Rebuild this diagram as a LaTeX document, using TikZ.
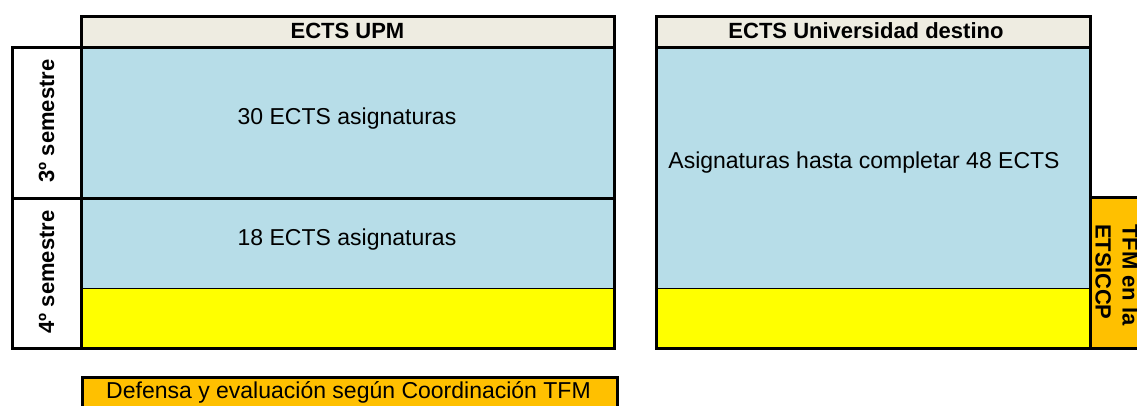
\documentclass[tikz,border=0pt]{standalone}
\usepackage{fontspec}
\setmainfont{Liberation Sans}
\definecolor{headbeige}{HTML}{EEECE1}
\definecolor{cellblue}{HTML}{B7DDE8}
\definecolor{tfmyellow}{HTML}{FFFF00}
\definecolor{tfmorange}{HTML}{FFC000}
\begin{document}
\begin{tikzpicture}[x=1pt,y=-1pt,
    frame/.style={line width=3pt},
    thinline/.style={line width=1pt},
    celltext/.style={font=\fontsize{23}{27}\selectfont},
    boldtext/.style={font=\fontsize{22}{27}\selectfont\bfseries}]
    \useasboundingbox (0,0) rectangle (1137,405);

    % Fills
    \fill[headbeige] (81,16) rectangle (614,47);
    \fill[headbeige] (656,16) rectangle (1090,47);
    \fill[cellblue] (81,47) rectangle (614,288);
    \fill[cellblue] (656,47) rectangle (1090,288);
    \fill[tfmyellow] (81,288) rectangle (614,348);
    \fill[tfmyellow] (656,288) rectangle (1090,348);
    \fill[tfmorange] (1090,197) rectangle (1175,348);
    \fill[tfmorange] (82,377) rectangle (617,420);

    % Frames
    \draw[frame] (81,16) rectangle (614,348);
    \draw[frame] (81,47) -- (614,47);
    \draw[frame] (12,47) rectangle (81,348);
    \draw[frame] (12,198) -- (614,198);
    \draw[thinline] (81,288) -- (614,288);
    \draw[frame] (656,16) rectangle (1090,348);
    \draw[frame] (656,47) -- (1090,47);
    \draw[thinline] (656,288) -- (1090,288);
    \draw[frame] (1175,197) -- (1090,197) -- (1090,348) -- (1175,348);
    \draw[frame] (82,420) -- (82,377) -- (617,377) -- (617,420);

    % Labels
    \node[boldtext] (HeadUPM) at (347.5,31) {ECTS UPM};
    \node[boldtext] (HeadDest) at (866,31) {ECTS Universidad destino};
    \node[boldtext, rotate=90] (SemThree) at (46.5,121) {3º semestre};
    \node[boldtext, rotate=90] (SemFour) at (46.5,272) {4º semestre};
    \node[celltext] (UPMThree) at (347,119) {30 ECTS asignaturas};
    \node[celltext] (UPMFour) at (347,240) {18 ECTS asignaturas};
    \node[celltext] (DestAll) at (864,163) {Asignaturas hasta completar 48 ECTS};
    \node[boldtext, rotate=-90, align=left] (TFMBox) at (1117,275) {TFM en la\\ETSICCP};
    \node[celltext] (Defensa) at (348.5,392) {Defensa y evaluación según Coordinación TFM};
\end{tikzpicture}
\end{document}
